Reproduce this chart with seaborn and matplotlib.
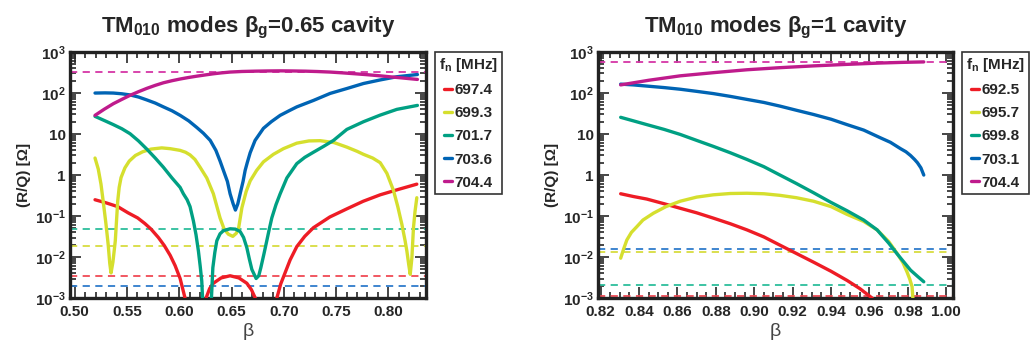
import matplotlib
matplotlib.use("Agg")
import matplotlib.pyplot as plt
import matplotlib.ticker as ticker
import pandas as pd
import seaborn as sns

# ---- beta_g = 0.65 cavity ----
left_modes = ['697.4', '699.3', '701.7', '703.6', '704.4']

left_b_6974 = [0.5194, 0.5300, 0.5411, 0.5510, 0.5602, 0.5670, 0.5730, 0.5800, 0.5857,
               0.5913, 0.5960, 0.6008, 0.6055, 0.6075,
               0.6230, 0.6256, 0.6290, 0.6326, 0.6400, 0.6486, 0.6570, 0.6646, 0.6690,
               0.6727, 0.6750,
               0.6900, 0.6933, 0.6970, 0.7013, 0.7060, 0.7124, 0.7200, 0.7283, 0.7440,
               0.7603, 0.7760, 0.7922, 0.8100, 0.8272]
left_r_6974 = [0.25, 0.21, 0.17, 0.12, 0.09, 0.066, 0.048, 0.03, 0.019,
               0.011, 0.0062, 0.003, 0.001, 0.0002,
               0.0002, 0.001, 0.0017, 0.0023, 0.0031, 0.0035, 0.0031, 0.0023, 0.0016,
               0.001, 0.0002,
               0.0002, 0.001, 0.0022, 0.0042, 0.0085, 0.018, 0.032, 0.052, 0.095,
               0.15, 0.23, 0.33, 0.45, 0.6]

left_b_6993 = [0.5194, 0.5225, 0.5251, 0.5275, 0.5299, 0.5320, 0.5335, 0.5347, 0.5365,
               0.5388, 0.5400, 0.5411, 0.5425, 0.5443, 0.5480, 0.5522, 0.5580, 0.5650,
               0.5730, 0.5832, 0.5913, 0.6008, 0.6060, 0.6103, 0.6150, 0.6199, 0.6263,
               0.6326, 0.6360, 0.6390, 0.6429, 0.6470, 0.6512, 0.6545, 0.6567, 0.6599,
               0.6640, 0.6678, 0.6740, 0.6805, 0.6900, 0.6996, 0.7124, 0.7240, 0.7347,
               0.7480, 0.7603, 0.7700, 0.7762, 0.7850, 0.7922, 0.7986, 0.8049, 0.8090,
               0.8129, 0.8160, 0.8177, 0.8195, 0.8209, 0.8225, 0.8240, 0.8255, 0.8272]
left_r_6993 = [2.6, 1.4, 0.6, 0.2, 0.063, 0.02, 0.007, 0.0041, 0.0075,
               0.025, 0.08, 0.23, 0.5, 0.87, 1.5, 2.2, 3.0, 3.7,
               4.3, 4.6, 4.4, 4.0, 3.6, 3.1, 2.4, 1.55, 0.85,
               0.35, 0.17, 0.09, 0.048, 0.036, 0.032, 0.038, 0.05, 0.16,
               0.4, 0.72, 1.3, 2.1, 3.2, 4.4, 6.0, 6.8, 6.9,
               6.2, 4.8, 3.8, 3.2, 2.6, 2.0, 1.1, 0.42, 0.17,
               0.063, 0.025, 0.014, 0.0065, 0.0038, 0.0096, 0.052, 0.13, 0.28]

left_b_7017 = [0.5194, 0.5290, 0.5369, 0.5450, 0.5529, 0.5610, 0.5689, 0.5770, 0.5848,
               0.5930, 0.6008, 0.6039, 0.6075, 0.6103, 0.6135, 0.6160, 0.6183, 0.6200,
               0.6215, 0.6235,
               0.6295, 0.6321, 0.6340, 0.6359, 0.6390, 0.6422, 0.6486, 0.6537, 0.6582,
               0.6615, 0.6646, 0.6670, 0.6694, 0.6735, 0.6760, 0.6780, 0.6810, 0.6837,
               0.6860, 0.6885, 0.6925, 0.6965, 0.7029, 0.7124, 0.7200, 0.7283, 0.7380,
               0.7475, 0.7603, 0.7762, 0.7922, 0.8081, 0.8278]
left_r_7017 = [27, 21, 17, 13.5, 10.2, 6.8, 4.3, 2.6, 1.55,
               0.85, 0.5, 0.35, 0.25, 0.17, 0.076, 0.035, 0.014, 0.006,
               0.0026, 0.0002,
               0.0002, 0.0055, 0.013, 0.025, 0.037, 0.044, 0.049, 0.048, 0.042,
               0.03, 0.017, 0.009, 0.005, 0.003, 0.0035, 0.0055, 0.012, 0.025,
               0.047, 0.09, 0.19, 0.35, 0.85, 1.9, 2.7, 3.6, 5.0,
               7.0, 13.0, 20, 29, 40, 50]

left_b_7036 = [0.5194, 0.5290, 0.5369, 0.5450, 0.5529, 0.5610, 0.5689, 0.5770, 0.5848,
               0.5930, 0.6008, 0.6090, 0.6167, 0.6230, 0.6296, 0.6350, 0.6390, 0.6422,
               0.6460, 0.6486, 0.6515, 0.6537, 0.6560, 0.6582, 0.6610, 0.6630, 0.6650,
               0.6678, 0.6725, 0.6805, 0.6880, 0.6965, 0.7050, 0.7124, 0.7283, 0.7443,
               0.7603, 0.7762, 0.7922, 0.8081, 0.8278]
left_r_7036 = [100, 101, 100, 96, 90, 80, 68, 57, 46,
               37, 28.6, 21, 14.5, 10.5, 7.0, 4.0, 2.2, 1.3,
               0.7, 0.35, 0.2, 0.14, 0.2, 0.35, 0.7, 1.3, 2.0,
               3.5, 7.0, 13.8, 20, 28.6, 37, 46, 66, 98,
               129, 171, 209, 250, 283]

left_b_7044 = [0.5194, 0.5280, 0.5369, 0.5450, 0.5529, 0.5610, 0.5689, 0.5770, 0.5848,
               0.5930, 0.6008, 0.6090, 0.6167, 0.6250, 0.6326, 0.6400, 0.6486, 0.6600,
               0.6725, 0.6850, 0.6965, 0.7080, 0.7203, 0.7320, 0.7443, 0.7560, 0.7683,
               0.7800, 0.7922, 0.8010, 0.8100, 0.8190, 0.8278]
left_r_7044 = [28.6, 40, 55, 70, 88, 108, 130, 154, 178,
               200, 220, 240, 258, 277, 295, 310, 325, 336,
               342, 346, 348, 346, 342, 335, 325, 311, 295,
               280, 263, 250, 238, 226, 215]

left_dashed = [0.0035, 0.019, 0.049, 0.0020, 330]

# ---- beta_g = 1 cavity ----
right_modes = ['692.5', '695.7', '699.8', '703.1', '704.4']

right_b_6925 = [0.8304, 0.8370, 0.8440, 0.8530, 0.8614, 0.8700, 0.8787, 0.8875, 0.8962,
                0.9050, 0.9134, 0.9220, 0.9309, 0.9400, 0.9483, 0.9550, 0.9614, 0.9640]
right_r_6925 = [0.35, 0.30, 0.26, 0.20, 0.155, 0.12, 0.089, 0.065, 0.046,
                0.031, 0.0195, 0.0122, 0.0075, 0.0045, 0.0027, 0.0017, 0.001, 0.0003]

right_b_6957 = [0.8304, 0.8320, 0.8336, 0.8360, 0.8388, 0.8420, 0.8474, 0.8540, 0.8614,
                0.8700, 0.8787, 0.8875, 0.8962, 0.9050, 0.9134, 0.9220, 0.9309, 0.9400,
                0.9483, 0.9570, 0.9640, 0.9700, 0.9744, 0.9775, 0.9796, 0.9810, 0.9822,
                0.9834]
right_r_6957 = [0.0094, 0.016, 0.026, 0.04, 0.055, 0.08, 0.117, 0.17, 0.23,
                0.29, 0.33, 0.355, 0.36, 0.35, 0.32, 0.28, 0.23, 0.17,
                0.11, 0.074, 0.046, 0.024, 0.0123, 0.0072, 0.0043, 0.0029, 0.0019,
                0.0003]

right_b_6998 = [0.8304, 0.8370, 0.8440, 0.8530, 0.8614, 0.8700, 0.8787, 0.8875, 0.8962,
                0.9050, 0.9134, 0.9220, 0.9309, 0.9396, 0.9483, 0.9570, 0.9640, 0.9700,
                0.9744, 0.9780, 0.9814, 0.9850, 0.9883]
right_r_6998 = [25.6, 21, 17, 13, 9.8, 7.0, 5.0, 3.5, 2.4,
                1.6, 1.0, 0.62, 0.37, 0.22, 0.135, 0.08, 0.046, 0.022,
                0.012, 0.0075, 0.0048, 0.0034, 0.0025]

right_b_7031 = [0.8304, 0.8370, 0.8440, 0.8530, 0.8614, 0.8700, 0.8787, 0.8875, 0.8962,
                0.9050, 0.9134, 0.9220, 0.9309, 0.9400, 0.9483, 0.9570, 0.9657, 0.9709,
                0.9762, 0.9790, 0.9814, 0.9835, 0.9850, 0.9868, 0.9883]
right_r_7031 = [165, 158, 148, 136, 124, 110, 97, 83, 70,
                59, 48, 38, 30, 23, 17, 12.5, 8.1, 6.3,
                4.4, 3.7, 3.0, 2.4, 2.0, 1.5, 1.0]

right_b_7044 = [0.8304, 0.8450, 0.8614, 0.8790, 0.8962, 0.9130, 0.9309, 0.9480, 0.9657,
                0.9770, 0.9883]
right_r_7044 = [158, 205, 263, 315, 370, 415, 460, 500, 540,
                560, 575]

right_dashed = [0.00112, 0.013, 0.0021, 0.0158, 575]

line_colors = ['#ee1c25', '#d5df2e', '#00a083', '#0064b4', '#bf1b8c']
dash_colors = ['#f04a55', '#d8dc40', '#2dbe9c', '#2f7ccc', '#d636a6']

sns.set_style("ticks")
plt.rcParams['font.family'] = ['Liberation Sans', 'DejaVu Sans']
plt.rcParams['font.weight'] = 'bold'
plt.rcParams['axes.titleweight'] = 'bold'
plt.rcParams['axes.labelweight'] = 'bold'
plt.rcParams['mathtext.fontset'] = 'custom'
plt.rcParams['mathtext.rm'] = 'Liberation Sans:bold'
plt.rcParams['mathtext.it'] = 'Liberation Sans:bold'
plt.rcParams['mathtext.bf'] = 'Liberation Sans:bold'
plt.rcParams['mathtext.sf'] = 'Liberation Sans:bold'
plt.rcParams['axes.unicode_minus'] = True


def build_frame(modes, betas, values):
    parts = []
    for m, b, r in zip(modes, betas, values):
        parts.append(pd.DataFrame({'beta': b, 'rq': r, 'mode': m}))
    return pd.concat(parts, ignore_index=True)


def draw_panel(ax, df, modes, dashed, title, xlim, major, minor):
    for val, c in zip(dashed, dash_colors):
        ax.axhline(val, color=c, lw=1.3, ls=(0, (4, 3)), zorder=1)
    sns.lineplot(data=df, x='beta', y='rq', hue='mode', hue_order=modes,
                 palette=dict(zip(modes, line_colors)), estimator=None,
                 sort=False, lw=2.4, ax=ax, zorder=3)
    ax.set_yscale('log')
    ax.set_ylim(1e-3, 1e3)
    ax.set_xlim(*xlim)
    ax.yaxis.set_major_locator(ticker.FixedLocator([1e-3, 1e-2, 1e-1, 1, 10, 1e2, 1e3]))
    ax.yaxis.set_major_formatter(ticker.FixedFormatter(
        ['$10^{-3}$', '$10^{-2}$', '$10^{-1}$', '1', '10', '$10^{2}$', '$10^{3}$']))
    ax.yaxis.set_minor_locator(ticker.LogLocator(base=10, subs=range(2, 10), numticks=20))
    ax.yaxis.set_minor_formatter(ticker.NullFormatter())
    ax.xaxis.set_major_locator(ticker.MultipleLocator(major))
    ax.xaxis.set_minor_locator(ticker.MultipleLocator(minor))
    ax.xaxis.set_major_formatter(ticker.FormatStrFormatter('%.2f'))
    ax.tick_params(which='both', direction='in', top=True, right=True,
                   labelsize=11, width=1.2, pad=3)
    ax.tick_params(axis='x', which='major', pad=5)
    ax.tick_params(which='major', length=8)
    ax.tick_params(which='minor', length=4)
    for lab in ax.get_xticklabels() + ax.get_yticklabels():
        lab.set_fontweight('bold')
    for s in ax.spines.values():
        s.set_linewidth(2.4)
        s.set_color('#222222')
    ax.set_xlabel('β', fontsize=14, fontweight='normal', labelpad=3, color='#444444')
    ax.set_ylabel('(R/Q) [Ω]', fontsize=11, fontweight='bold', labelpad=3)
    ax.set_title(title, fontsize=16, fontweight='bold', pad=14)

    handles, labels = ax.get_legend_handles_labels()
    leg = ax.legend(handles, labels, title='f$_{n}$ [MHz]', loc='upper left',
                    bbox_to_anchor=(1.025, 1.0), fontsize=11, title_fontsize=11,
                    frameon=True, fancybox=False, edgecolor='black',
                    handlelength=0.55, handletextpad=0.15, borderpad=0.25,
                    labelspacing=0.6, borderaxespad=0)
    leg.get_frame().set_linewidth(1.2)
    for h in leg.get_lines():
        h.set_linewidth(2.4)
    for t in leg.get_texts():
        t.set_fontweight('bold')
    leg.get_title().set_fontweight('bold')


fig = plt.figure(figsize=(10.3, 3.47), dpi=100)
ax1 = fig.add_axes([0.068, 0.141, 0.3456, 0.709])
ax2 = fig.add_axes([0.5806, 0.141, 0.3446, 0.709])

df_left = build_frame(left_modes,
                      [left_b_6974, left_b_6993, left_b_7017, left_b_7036, left_b_7044],
                      [left_r_6974, left_r_6993, left_r_7017, left_r_7036, left_r_7044])
df_right = build_frame(right_modes,
                       [right_b_6925, right_b_6957, right_b_6998, right_b_7031, right_b_7044],
                       [right_r_6925, right_r_6957, right_r_6998, right_r_7031, right_r_7044])

draw_panel(ax1, df_left, left_modes, left_dashed,
           'TM$_{010}$ modes β$_{g}$=0.65 cavity', (0.4955, 0.836), 0.05, 0.01)
draw_panel(ax2, df_right, right_modes, right_dashed,
           'TM$_{010}$ modes β$_{g}$=1 cavity', (0.8186, 1.0035), 0.02, 0.005)

fig.savefig('out.png', dpi=100)
